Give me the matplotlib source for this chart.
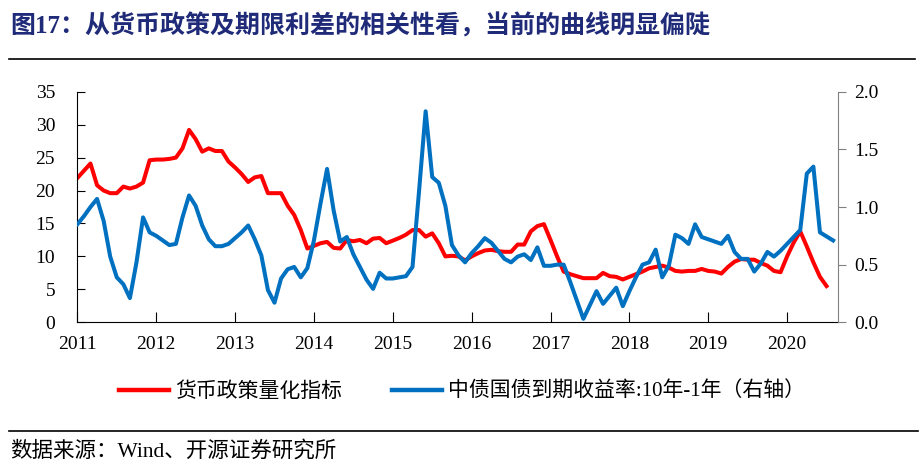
import numpy as np
import matplotlib
matplotlib.use("Agg")
import matplotlib.pyplot as plt
from matplotlib.lines import Line2D

# monthly data, Jan 2011 onward
policy_idx = [
    21.9, 23.0, 24.1, 20.8, 20.0, 19.6, 19.6, 20.6, 20.3, 20.6, 21.2, 24.6,
    24.7, 24.7, 24.8, 25.0, 26.4, 29.2, 27.8, 25.9, 26.4, 26.0, 26.0, 24.4,
    23.5, 22.5, 21.3, 22.0, 22.2, 19.6, 19.6, 19.6, 17.7, 16.3, 14.0, 11.2,
    11.6, 12.0, 12.2, 11.3, 11.2, 12.5, 12.3, 12.5, 12.0, 12.7, 12.8, 12.0,
    12.4, 12.8, 13.3, 14.0, 14.0, 13.0, 13.5, 12.0, 10.0, 10.1, 10.0, 9.4,
    10.0, 10.5, 10.9, 11.0, 10.8, 10.7, 10.7, 11.8, 11.8, 13.8, 14.6, 14.9,
    12.5, 10.0, 7.7, 7.3, 7.0, 6.7, 6.7, 6.7, 7.5, 7.0, 6.9, 6.5,
    6.9, 7.3, 7.7, 8.2, 8.4, 8.6, 8.3, 7.8, 7.7, 7.8, 7.8, 8.1,
    7.8, 7.7, 7.4, 8.4, 9.2, 9.6, 9.5, 9.5, 9.0, 8.6, 7.8, 7.6,
    10.0, 12.1, 13.8, 11.5, 9.1, 6.9, 5.5,
]

term_spread = [
    0.85, 0.92, 1.00, 1.07, 0.88, 0.57, 0.39, 0.33, 0.21, 0.52, 0.91, 0.78,
    0.75, 0.71, 0.67, 0.68, 0.91, 1.10, 1.01, 0.84, 0.72, 0.66, 0.66, 0.68,
    0.73, 0.78, 0.84, 0.72, 0.58, 0.28, 0.17, 0.38, 0.46, 0.48, 0.39, 0.47,
    0.71, 1.03, 1.33, 0.97, 0.70, 0.74, 0.59, 0.48, 0.37, 0.29, 0.43, 0.38,
    0.38, 0.39, 0.40, 0.48, 1.14, 1.83, 1.26, 1.21, 1.01, 0.67, 0.58, 0.52,
    0.60, 0.66, 0.73, 0.69, 0.62, 0.55, 0.52, 0.57, 0.59, 0.54, 0.65, 0.49,
    0.49, 0.50, 0.50, 0.35, 0.19, 0.03, 0.15, 0.27, 0.16, 0.23, 0.30, 0.14,
    0.27, 0.39, 0.50, 0.52, 0.63, 0.39, 0.49, 0.76, 0.73, 0.68, 0.85, 0.74,
    0.72, 0.70, 0.68, 0.75, 0.61, 0.55, 0.55, 0.44, 0.51, 0.61, 0.57, 0.62,
    0.68, 0.74, 0.80, 1.29, 1.35, 0.78, 0.745, 0.71,
]

years = ["2011", "2012", "2013", "2014", "2015", "2016", "2017", "2018", "2019", "2020"]

title = "图17：从货币政策及期限利差的相关性看，当前的曲线明显偏陡"
label_red = "货币政策量化指标"
label_blue = "中债国债到期收益率:10年-1年（右轴）"
source = "数据来源：Wind、开源证券研究所"

FONT = ["Liberation Serif", "Noto Sans CJK SC"]
RED = "#FF0000"
BLUE = "#0070C0"
NAVY = "#1F2A78"

plt.rcParams["font.family"] = FONT

fig = plt.figure(figsize=(9.24, 4.71), dpi=100)
ax = fig.add_axes([0.0837, 0.3157, 0.9066 - 0.0837, 0.8053 - 0.3157])
ax2 = ax.twinx()

# red on the left axis, blue (right axis) drawn on top
ax.plot(np.arange(len(policy_idx)), policy_idx, color=RED, lw=2.9)
ax2.plot(np.arange(len(term_spread)), term_spread, color=BLUE, lw=2.9)

ax.set_xlim(0, 115.7)
ax.set_ylim(0, 35)
ax2.set_ylim(0, 2.0)
ax.set_yticks(np.arange(0, 36, 5))
right_ticks = np.arange(0, 2.01, 0.5)
ax2.set_yticks(right_ticks)
ax2.set_yticklabels([f"{v:.1f}" for v in right_ticks])
ax.set_xticks(np.arange(len(years)) * 12)
ax.set_xticklabels(years)

for a in (ax, ax2):
    a.spines["top"].set_visible(False)
ax.spines["right"].set_visible(False)
ax2.spines["left"].set_visible(False)
ax2.spines["bottom"].set_visible(False)
ax2.spines["right"].set_color("#808080")

ax.tick_params(axis="y", direction="in", length=6, pad=16, labelsize=14)
ax.tick_params(axis="x", direction="in", length=7, pad=10, labelsize=14)
ax2.tick_params(axis="y", direction="out", length=6, pad=6, labelsize=14,
                color="#808080")

# title and rules
fig.text(0.011, 1 - 26 / 471, title, fontsize=18, fontweight="bold",
         color=NAVY, va="center", ha="left")
fig.add_artist(Line2D([9 / 924, 915 / 924], [1 - 59.3 / 471] * 2,
                      color="black", lw=1.2))
fig.add_artist(Line2D([9 / 924, 918 / 924], [1 - 431 / 471] * 2,
                      color="black", lw=1.2))
fig.text(0.011, 1 - 451 / 471, source, fontsize=15.5, va="center", ha="left")

handles = [Line2D([], [], color=RED, lw=3.2), Line2D([], [], color=BLUE, lw=3.2)]
fig.legend(handles, [label_red, label_blue], loc="center",
           bbox_to_anchor=(0.5, 1 - 392 / 471), ncol=2, frameon=False,
           fontsize=15, handlelength=2.4, handletextpad=0.3, columnspacing=2.4)

fig.savefig("out.png", dpi=100)
